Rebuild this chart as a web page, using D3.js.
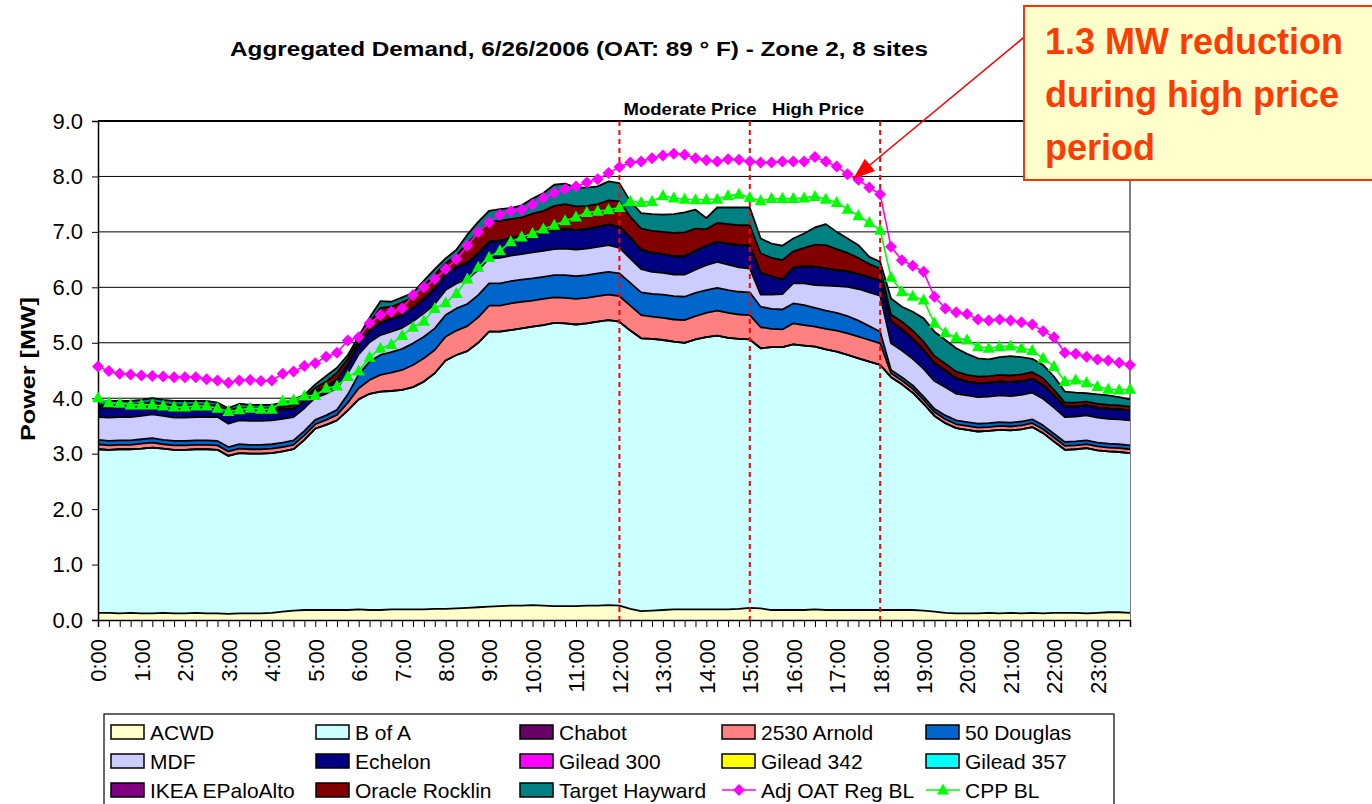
<!DOCTYPE html>
<html><head><meta charset="utf-8">
<script src="https://cdn.jsdelivr.net/npm/d3@7"></script>
<style>
body{margin:0;background:#fff;}
text{font-family:Arial,"Liberation Sans",sans-serif;}
</style>
</head><body>
<svg id="c" width="1372" height="804"></svg>
<script>
// ---------- DATA ----------
const hourLabels = ["0:00","1:00","2:00","3:00","4:00","5:00","6:00","7:00","8:00","9:00","10:00","11:00",
  "12:00","13:00","14:00","15:00","16:00","17:00","18:00","19:00","20:00","21:00","22:00","23:00"];
const categories = d3.range(96).map(i => Math.floor(i/4) + ":" + String((i%4)*15).padStart(2,"0"));
const yTicks = [0,1,2,3,4,5,6,7,8,9];

const acwd = [0.13,0.13,0.12,0.13,0.12,0.12,0.13,0.12,0.12,0.13,0.12,0.12,0.11,0.12,0.12,0.12,
  0.13,0.15,0.17,0.18,0.18,0.18,0.18,0.18,0.19,0.18,0.18,0.19,0.19,0.19,0.19,0.20,
  0.20,0.21,0.22,0.23,0.24,0.25,0.26,0.26,0.27,0.26,0.25,0.25,0.25,0.26,0.26,0.27,
  0.26,0.20,0.16,0.17,0.18,0.19,0.19,0.19,0.19,0.19,0.19,0.20,0.22,0.21,0.18,0.18,
  0.18,0.18,0.19,0.18,0.18,0.18,0.18,0.18,0.18,0.18,0.18,0.18,0.17,0.15,0.13,0.12,
  0.12,0.12,0.13,0.12,0.13,0.12,0.13,0.12,0.13,0.13,0.13,0.12,0.13,0.14,0.14,0.13];
const bofa = [2.95,2.94,2.96,2.95,2.97,2.99,2.96,2.95,2.95,2.95,2.96,2.95,2.85,2.89,2.88,2.88,
  2.88,2.89,2.91,3.07,3.27,3.34,3.42,3.60,3.79,3.90,3.94,3.94,3.96,4.01,4.11,4.25,
  4.48,4.57,4.63,4.77,4.96,4.95,4.97,5.00,5.02,5.06,5.11,5.10,5.08,5.09,5.12,5.14,
  5.12,5.02,4.92,4.90,4.87,4.83,4.81,4.87,4.91,4.94,4.90,4.87,4.84,4.69,4.74,4.74,
  4.79,4.77,4.74,4.70,4.66,4.60,4.54,4.48,4.42,4.20,4.07,3.92,3.73,3.53,3.42,3.34,
  3.31,3.28,3.28,3.31,3.29,3.32,3.35,3.25,3.09,2.94,2.95,2.98,2.93,2.90,2.89,2.88];
const chabot = Array(96).fill(0);
const arnold = [0.09,0.08,0.08,0.08,0.09,0.09,0.08,0.08,0.08,0.08,0.08,0.08,0.08,0.08,0.08,0.08,
  0.08,0.08,0.08,0.08,0.08,0.09,0.10,0.14,0.20,0.25,0.30,0.33,0.36,0.40,0.42,0.42,
  0.43,0.44,0.45,0.46,0.47,0.47,0.48,0.48,0.47,0.47,0.46,0.46,0.46,0.46,0.46,0.46,
  0.46,0.45,0.42,0.40,0.40,0.40,0.41,0.42,0.44,0.45,0.45,0.44,0.44,0.38,0.33,0.32,
  0.38,0.37,0.36,0.37,0.38,0.39,0.39,0.39,0.39,0.07,0.07,0.07,0.07,0.07,0.07,0.07,
  0.07,0.07,0.07,0.07,0.07,0.07,0.07,0.07,0.07,0.07,0.07,0.07,0.07,0.07,0.07,0.07];
const douglas = [0.08,0.08,0.08,0.08,0.08,0.08,0.08,0.08,0.08,0.08,0.08,0.08,0.08,0.08,0.08,0.08,
  0.08,0.08,0.08,0.08,0.08,0.08,0.09,0.15,0.25,0.33,0.36,0.37,0.38,0.39,0.39,0.39,
  0.39,0.40,0.40,0.40,0.40,0.40,0.40,0.40,0.40,0.40,0.40,0.41,0.41,0.41,0.41,0.41,
  0.41,0.41,0.41,0.41,0.42,0.42,0.42,0.42,0.41,0.41,0.41,0.41,0.41,0.37,0.36,0.36,
  0.36,0.36,0.34,0.33,0.32,0.31,0.29,0.25,0.21,0.06,0.06,0.06,0.06,0.06,0.07,0.07,
  0.07,0.07,0.07,0.07,0.07,0.07,0.07,0.07,0.07,0.07,0.07,0.07,0.07,0.07,0.07,0.07];
const mdf = [0.41,0.42,0.42,0.42,0.42,0.43,0.43,0.42,0.42,0.42,0.42,0.43,0.42,0.43,0.43,0.43,
  0.43,0.43,0.42,0.41,0.40,0.39,0.39,0.38,0.36,0.35,0.36,0.37,0.38,0.40,0.42,0.44,
  0.45,0.45,0.45,0.45,0.45,0.46,0.46,0.46,0.47,0.47,0.47,0.48,0.48,0.48,0.48,0.48,
  0.46,0.44,0.42,0.40,0.39,0.39,0.40,0.42,0.45,0.47,0.46,0.44,0.43,0.22,0.26,0.28,
  0.36,0.39,0.41,0.45,0.48,0.53,0.57,0.61,0.65,0.48,0.48,0.48,0.50,0.50,0.51,0.48,
  0.48,0.48,0.48,0.48,0.48,0.48,0.48,0.48,0.47,0.45,0.45,0.45,0.45,0.45,0.45,0.45];
const echelon = [0.18,0.18,0.18,0.18,0.18,0.18,0.18,0.18,0.18,0.18,0.18,0.17,0.20,0.19,0.18,0.18,
  0.18,0.17,0.15,0.13,0.12,0.12,0.15,0.16,0.18,0.20,0.22,0.23,0.23,0.24,0.26,0.27,
  0.28,0.29,0.29,0.30,0.30,0.31,0.32,0.33,0.33,0.34,0.34,0.35,0.35,0.35,0.36,0.37,
  0.38,0.37,0.35,0.34,0.34,0.33,0.33,0.34,0.35,0.36,0.38,0.40,0.41,0.39,0.33,0.26,
  0.28,0.31,0.33,0.31,0.29,0.28,0.27,0.27,0.27,0.40,0.38,0.36,0.34,0.32,0.30,0.28,
  0.25,0.25,0.25,0.25,0.25,0.25,0.25,0.25,0.22,0.19,0.18,0.18,0.18,0.18,0.18,0.18];
const gilead300 = Array(96).fill(0);
const gilead342 = Array(96).fill(0);
const gilead357 = Array(96).fill(0);
const ikea = Array(96).fill(0);
const oracle = [0.04,0.04,0.04,0.04,0.04,0.04,0.04,0.04,0.04,0.04,0.04,0.04,0.04,0.04,0.04,0.04,
  0.04,0.05,0.06,0.05,0.06,0.10,0.13,0.10,0.09,0.15,0.27,0.22,0.23,0.19,0.23,0.26,
  0.20,0.22,0.35,0.38,0.36,0.36,0.34,0.33,0.37,0.38,0.44,0.45,0.43,0.42,0.41,0.44,
  0.46,0.38,0.38,0.40,0.40,0.42,0.43,0.40,0.30,0.34,0.35,0.36,0.37,0.35,0.33,0.35,
  0.30,0.33,0.40,0.42,0.38,0.33,0.29,0.24,0.22,0.12,0.14,0.15,0.15,0.13,0.12,0.12,
  0.12,0.12,0.12,0.12,0.12,0.12,0.12,0.12,0.10,0.07,0.07,0.07,0.07,0.07,0.07,0.07];
const target = [0.07,0.08,0.07,0.07,0.07,0.07,0.07,0.08,0.08,0.07,0.07,0.05,0.04,0.07,0.07,0.07,
  0.06,0.07,0.10,0.06,0.06,0.10,0.09,0.07,0.06,0.09,0.12,0.09,0.09,0.08,0.10,0.10,
  0.09,0.10,0.16,0.19,0.20,0.21,0.20,0.22,0.27,0.32,0.38,0.37,0.34,0.33,0.32,0.34,
  0.33,0.28,0.28,0.30,0.31,0.34,0.36,0.34,0.20,0.28,0.30,0.32,0.32,0.27,0.26,0.26,
  0.23,0.26,0.31,0.38,0.31,0.26,0.23,0.13,0.12,0.29,0.27,0.34,0.42,0.44,0.43,0.42,
  0.38,0.33,0.30,0.32,0.35,0.31,0.24,0.24,0.24,0.20,0.18,0.15,0.17,0.17,0.15,0.13];
const adjOatRegBL = [4.57,4.49,4.44,4.43,4.41,4.40,4.39,4.38,4.38,4.38,4.34,4.32,4.28,4.32,4.33,4.31,
  4.32,4.44,4.48,4.58,4.63,4.75,4.82,5.04,5.10,5.35,5.50,5.56,5.62,5.86,6.00,6.15,
  6.33,6.51,6.75,7.00,7.17,7.31,7.37,7.40,7.49,7.61,7.70,7.77,7.82,7.89,7.95,8.06,
  8.17,8.25,8.27,8.33,8.38,8.41,8.39,8.33,8.29,8.27,8.31,8.30,8.27,8.25,8.25,8.27,
  8.27,8.27,8.35,8.27,8.18,8.04,7.94,7.80,7.68,6.73,6.49,6.39,6.28,5.83,5.62,5.55,
  5.52,5.42,5.40,5.42,5.40,5.37,5.33,5.21,5.10,4.82,4.80,4.75,4.70,4.68,4.64,4.60];
const cppBL = [4.01,3.92,3.91,3.88,3.88,3.88,3.86,3.84,3.84,3.86,3.86,3.82,3.76,3.79,3.82,3.80,
  3.80,3.95,3.97,4.04,4.05,4.18,4.22,4.39,4.49,4.74,4.90,4.97,5.13,5.28,5.39,5.62,
  5.72,5.89,6.15,6.36,6.54,6.66,6.82,6.91,6.97,7.05,7.12,7.20,7.27,7.35,7.37,7.40,
  7.44,7.55,7.53,7.55,7.65,7.61,7.59,7.58,7.58,7.59,7.65,7.68,7.62,7.56,7.60,7.60,
  7.60,7.61,7.64,7.59,7.53,7.41,7.29,7.17,7.03,6.18,5.92,5.84,5.77,5.35,5.18,5.09,
  5.05,4.93,4.90,4.93,4.94,4.90,4.86,4.72,4.57,4.30,4.33,4.28,4.21,4.16,4.15,4.16];

const priceMarks = ["12:00","15:00","18:00"];

// ---------- SERIES META ----------
const areaSeries = [
  {name:"ACWD", data:acwd, color:"#FFFFCC"},
  {name:"B of A", data:bofa, color:"#CCFFFF"},
  {name:"Chabot", data:chabot, color:"#660066"},
  {name:"2530 Arnold", data:arnold, color:"#FF8080"},
  {name:"50 Douglas", data:douglas, color:"#0066CC"},
  {name:"MDF", data:mdf, color:"#CCCCFF"},
  {name:"Echelon", data:echelon, color:"#000080"},
  {name:"Gilead 300", data:gilead300, color:"#FF00FF"},
  {name:"Gilead 342", data:gilead342, color:"#FFFF00"},
  {name:"Gilead 357", data:gilead357, color:"#00FFFF"},
  {name:"IKEA EPaloAlto", data:ikea, color:"#800080"},
  {name:"Oracle Rocklin", data:oracle, color:"#800000"},
  {name:"Target Hayward", data:target, color:"#008080"}
];
const lineSeries = [
  {name:"Adj OAT Reg BL", data:adjOatRegBL, color:"#FF00FF", marker:"diamond"},
  {name:"CPP BL", data:cppBL, color:"#00FF00", marker:"triangle"}
];

// ---------- LAYOUT ----------
const svg = d3.select("#c");
const X0 = 98, X1 = 1130, YT = 121, YB = 620;
const x = d3.scalePoint().domain(categories).range([X0, X1]);
const y = d3.scaleLinear().domain([0, 9]).range([YB, YT]);
const FF = "Arial, 'Liberation Sans', sans-serif";

// gridlines
svg.append("g").selectAll("line").data(yTicks.filter(v => v > 0)).join("line")
  .attr("x1", X0).attr("x2", X1).attr("y1", d => y(d)).attr("y2", d => y(d))
  .attr("stroke", "#000").attr("stroke-width", d => d === 9 ? 2 : 1);
svg.append("line").attr("x1", X1).attr("x2", X1).attr("y1", YT).attr("y2", YB)
  .attr("stroke", "#555").attr("stroke-width", 1.5);

// stacked areas
const rows = categories.map((c, i) => {
  const r = {cat: c};
  areaSeries.forEach(s => r[s.name] = s.data[i]);
  return r;
});
const stack = d3.stack().keys(areaSeries.map(s => s.name));
const layers = stack(rows);
const area = d3.area().x(d => x(d.data.cat)).y0(d => y(d[0])).y1(d => y(d[1]));
const topLine = d3.line().x(d => x(d.data.cat)).y(d => y(d[1]));
const gA = svg.append("g");
gA.selectAll("path.a").data(layers).join("path").attr("class", "a")
  .attr("d", area).attr("fill", (d, i) => areaSeries[i].color);
gA.selectAll("path.l").data(layers).join("path").attr("class", "l")
  .attr("d", topLine).attr("fill", "none").attr("stroke", "#000")
  .attr("stroke-width", 1.8).attr("stroke-linejoin", "round");

// dashed price lines
svg.append("g").selectAll("line").data(priceMarks).join("line")
  .attr("x1", d => x(d)).attr("x2", d => x(d)).attr("y1", YT).attr("y2", YB)
  .attr("stroke", "#FF0000").attr("stroke-width", 2).attr("stroke-dasharray", "5,4");

// axes
const yAxis = svg.append("g").attr("transform", `translate(${X0},0)`)
  .call(d3.axisLeft(y).tickValues(yTicks).tickFormat(d3.format(".1f")).tickSize(6).tickPadding(9));
yAxis.select(".domain").attr("stroke", "#000").attr("stroke-width", 1.5);
yAxis.selectAll("text").attr("font-size", 22).attr("fill", "#000").style("font-family", FF);

const xAxis = svg.append("g").attr("transform", `translate(0,${YB})`)
  .call(d3.axisBottom(x).tickValues(categories).tickSize(7)
    .tickFormat(d => hourLabels.includes(d) ? d : ""));
xAxis.select(".domain").attr("stroke", "#000").attr("stroke-width", 1.5);
xAxis.selectAll("text").attr("font-size", 22).attr("fill", "#000")
  .style("font-family", FF)
  .attr("transform", "rotate(-90)").attr("text-anchor", "end")
  .attr("x", -19).attr("y", 0).attr("dy", "0.36em");

// lines + markers
const markerPath = {
  diamond: "M0,-6L6,0L0,6L-6,0Z",
  triangle: "M0,-6.5L6,4.5L-6,4.5Z"
};
const ln = d3.line().x((d, i) => x(categories[i])).y(d => y(d));
lineSeries.forEach(s => {
  const g = svg.append("g");
  g.append("path").attr("d", ln(s.data)).attr("fill", "none")
    .attr("stroke", s.color).attr("stroke-width", 1.6);
  g.selectAll("path.m").data(s.data).join("path").attr("class", "m")
    .attr("transform", (d, i) => `translate(${x(categories[i])},${y(d)})`)
    .attr("d", markerPath[s.marker]).attr("fill", s.color);
});

// titles
svg.append("text").attr("x", 579).attr("y", 56).attr("text-anchor", "middle")
  .attr("font-weight", "bold").attr("font-size", 20)
  .attr("textLength", 698).attr("lengthAdjust", "spacingAndGlyphs")
  .text("Aggregated Demand, 6/26/2006 (OAT: 89 \u00B0  F) - Zone 2, 8 sites");
svg.append("text").attr("transform", "translate(35,369) rotate(-90)").attr("text-anchor", "middle")
  .attr("font-weight", "bold").attr("font-size", 21)
  .attr("textLength", 144).attr("lengthAdjust", "spacingAndGlyphs").text("Power [MW]");
svg.append("text").attr("x", 690).attr("y", 115).attr("text-anchor", "middle")
  .attr("font-weight", "bold").attr("font-size", 17)
  .attr("textLength", 133).attr("lengthAdjust", "spacingAndGlyphs").text("Moderate Price");
svg.append("text").attr("x", 818).attr("y", 115).attr("text-anchor", "middle")
  .attr("font-weight", "bold").attr("font-size", 17)
  .attr("textLength", 92).attr("lengthAdjust", "spacingAndGlyphs").text("High Price");

// legend
const lg = svg.append("g");
lg.append("rect").attr("x", 104).attr("y", 714).attr("width", 1010).attr("height", 100)
  .attr("fill", "#fff").attr("stroke", "#000").attr("stroke-width", 1.2);
const legendItems = areaSeries.map(s => ({...s, kind: "area"}))
  .concat(lineSeries.map(s => ({...s, kind: "line"})));
const colX = [111, 316, 520, 722, 926];
const rowY = [732, 761, 790];
legendItems.forEach((s, k) => {
  const cx = colX[k % 5], cy = rowY[Math.floor(k / 5)];
  if (s.kind === "area") {
    lg.append("rect").attr("x", cx).attr("y", cy - 7).attr("width", 33).attr("height", 14)
      .attr("fill", s.color).attr("stroke", "#000").attr("stroke-width", 1.5);
  } else {
    lg.append("line").attr("x1", cx).attr("x2", cx + 34).attr("y1", cy).attr("y2", cy)
      .attr("stroke", s.color).attr("stroke-width", 1.6);
    lg.append("path").attr("transform", `translate(${cx + 17},${cy})`)
      .attr("d", markerPath[s.marker]).attr("fill", s.color);
  }
  lg.append("text").attr("x", cx + 39).attr("y", cy + 7.5).attr("font-size", 21).text(s.name);
});

// annotation arrow + box
const tip = [853, 179], tail = [1040, 24];
svg.append("line").attr("x1", tail[0]).attr("y1", tail[1]).attr("x2", tip[0]).attr("y2", tip[1])
  .attr("stroke", "#FF0000").attr("stroke-width", 1.6);
const ang = Math.atan2(tail[1] - tip[1], tail[0] - tip[0]);
const hl = 22, hw = 8;
const bx = tip[0] + hl * Math.cos(ang), by = tip[1] + hl * Math.sin(ang);
svg.append("path").attr("fill", "#FF0000")
  .attr("d", `M${tip[0]},${tip[1]}L${bx + hw * Math.sin(ang)},${by - hw * Math.cos(ang)}L${bx - hw * Math.sin(ang)},${by + hw * Math.cos(ang)}Z`);
svg.append("rect").attr("x", 1024).attr("y", 6).attr("width", 360).attr("height", 174)
  .attr("fill", "#FFFFCC").attr("stroke", "#FF3300").attr("stroke-width", 2);
["1.3 MW reduction", "during high price", "period"].forEach((t, i) => {
  svg.append("text").attr("x", 1045).attr("y", 54 + i * 53).attr("font-weight", "bold")
    .attr("font-size", 36).attr("fill", "#FF3C00").text(t);
});
</script>
</body></html>
